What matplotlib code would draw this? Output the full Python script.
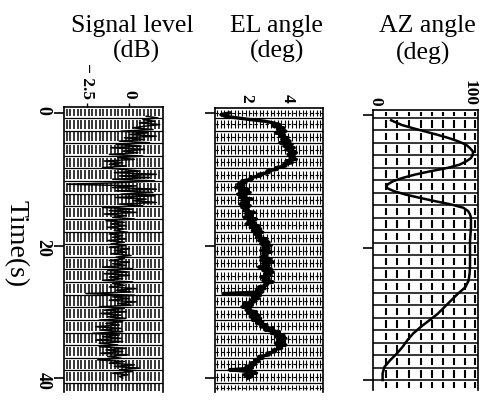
import numpy as np
import matplotlib
matplotlib.use('Agg')
import matplotlib.pyplot as plt

plt.rcParams['font.family'] = ['Liberation Serif', 'DejaVu Serif']

# ---------------- data ----------------
time_ticks = [0, 20, 40]
time_ticklabels = ['0', '20', '40']
sig_ticks = [-2.5, 0]
sig_ticklabels = ['− 2.5', '0']
el_ticks = [2, 4]
el_ticklabels = ['2', '4']
az_ticks = [0, 100]
az_ticklabels = ['0', '100']

# Signal level (dB), sampled every 0.25 s starting at 0.5 s
sig_t0, sig_dt = 0.5, 0.25
sig_values = [
    1.0, 1.7, 0.8, 1.5, 0.6, 1.8, 0.9,
    0.2, 1.4, -0.5, 1.1, 0.0, 1.6, -0.3, 0.9, -0.6, 1.2,
    -0.8, 0.7, -1.1, 0.9, -0.4, 0.5, -1.2, 0.8, -0.7, 0.3,
    -1.5, -0.4, -1.2, -0.2, -1.6, -0.5,
    0.6, -0.9, 1.6, -0.6, 1.2, -1.0, 1.5, -0.3,
    -3.7, 0.4, -1.0, 1.6, -0.8, 1.4,
    -0.5, 1.5, -0.8, 1.0, 0.2, 1.6, -0.6, 0.8,
    -1.6, 0.2, -1.2, 0.4, -1.5, -0.2, -1.0, 0.3, -1.4, -0.3,
    -1.1, -0.2, -1.3, -0.3, -0.9, -0.1, -1.2, -0.4, -1.0, -0.2, -1.3, -0.3, -1.1, -0.2,
    -1.2, 0.0, -0.9, -0.2, -1.1, 0.1, -0.8, -0.3, -1.2, 0.0, -1.0, -0.2,
    -1.6, 0.2, -1.3, -0.1, -1.5, 0.0, -1.2, -0.4, -1.6, 0.2, -1.0, -0.3,
    -1.2, 0.4, -0.8, 0.1, -2.6, 0.3, -1.0, 0.0, -1.2, 0.4, -0.7, 0.1,
    -1.8, -0.3, -1.5, -0.2, -1.7, -0.5, -1.3, -0.2, -1.8, -0.4, -1.4, -0.6,
    -2.0, -0.5, -1.7, -0.4, -2.2, -0.6, -1.6, -0.5, -2.0, -0.4, -1.8, -0.7,
    -1.8, -0.2, -1.4, -0.4, -1.7, -0.1, -1.3, -0.5, -1.9, -0.3,
    -1.2, 0.3, -0.9, 0.6, -0.6, 0.2, -1.0, -0.1, -0.6, -0.4,
]

# EL angle (deg), sampled every 0.25 s starting at 0 s
el_t0, el_dt = 0.0, 0.25
el_values = [
    1.2, 0.8, 1.0, 1.6, 2.2, 2.9, 3.3, 3.6,
    3.3, 3.8, 3.5, 3.9, 3.4, 3.8, 3.6, 4.0,
    3.7, 4.1, 3.6, 4.2, 3.8, 4.3, 3.9, 4.1,
    4.4, 4.0, 4.3, 4.1, 4.4, 3.9, 4.2, 3.8,
    3.9, 3.4, 3.5, 3.0, 3.1, 2.6, 2.7, 2.2,
    2.3, 1.8, 2.0, 1.6, 1.9, 1.5, 2.1, 1.7,
    2.2, 1.6, 2.0, 1.7, 2.3, 1.8, 2.1, 1.7,
    2.2, 1.8, 2.1, 1.9, 2.4, 2.0, 2.3, 1.9,
    2.5, 2.1, 2.4, 2.0, 2.6, 2.2, 2.7, 2.3,
    2.8, 2.4, 2.7, 2.5, 3.0, 2.6, 3.1, 2.7,
    3.2, 2.8, 3.1, 2.7, 3.2, 2.8, 3.0, 2.7,
    3.2, 2.7, 3.3, 2.8, 3.1, 2.6, 3.2, 2.8,
    3.3, 2.9, 3.2, 2.7, 3.1, 2.8, 3.3, 2.9,
    3.0, 2.6, 2.9, 2.5, 2.8, 0.9, 2.7, 2.3,
    2.6, 2.2, 2.4, 1.9, 2.3, 1.8, 2.2, 2.0,
    2.5, 2.1, 2.6, 2.2, 2.7, 2.3, 2.8, 2.5,
    3.0, 2.7, 3.3, 2.9, 3.6, 3.2, 3.8, 3.4,
    3.9, 3.5, 3.8, 3.4, 3.9, 3.5, 3.7, 3.3,
    3.4, 3.0, 3.1, 2.6, 2.8, 2.4, 2.6, 2.2,
    2.4, 2.0, 2.3, 1.2, 2.1, 2.5, 1.9, 2.3,
    2.1,
]

# AZ angle (deg)
az_time = [0.8, 1.0, 1.5, 2.0, 2.5, 3.0, 3.5, 4.0, 4.5, 5.0, 5.5, 6.0, 6.5, 7.0,
           7.5, 8.0, 8.5, 9.0, 9.5, 10.0, 10.5, 11.0, 11.5, 12.0, 12.5, 13.0,
           13.5, 14.0, 14.5, 15.0, 15.5, 16.0, 17, 18, 19, 20, 21, 22, 23, 24,
           25, 26, 27, 28, 29, 30, 31, 32, 33, 34, 35, 36, 37, 38, 39, 40]
az_values = [17, 20, 28, 40, 53, 66, 78, 88, 96, 100, 103, 103, 101, 96,
             89, 76, 58, 42, 29, 19, 13, 12, 20, 32, 47, 63,
             80, 93, 98, 100, 101, 101, 101, 100.5, 100, 100, 100, 100, 100, 99.5,
             98.5, 95, 87, 80, 73, 66, 57, 48, 40, 34, 29, 23, 16, 10, 8, 8]

# ---------------- figure ----------------
W, H = 488, 404
fig = plt.figure(figsize=(W / 100, H / 100), dpi=100)


def rect(left, top, right, bottom):
    return [left / W, 1 - bottom / H, (right - left) / W, (bottom - top) / H]


ax1 = fig.add_axes(rect(64, 107, 163, 392))
ax2 = fig.add_axes(rect(215, 108, 323, 392))
ax3 = fig.add_axes(rect(373, 110, 478, 390))


def paper(ax, xlo, xhi, tlo, thi, row_start, row_step, bar_xs, frac, bar_lw, line_lw=0.9):
    edges = [tlo]
    r = row_start
    while r < thi:
        edges.append(r)
        r += row_step
    edges.append(thi)
    for a, b in zip(edges[:-1], edges[1:]):
        h = b - a
        ax.vlines(bar_xs, a + frac * h, b - frac * h, color='k', lw=bar_lw, zorder=1)
    ax.hlines(edges[1:-1], xlo, xhi, color='k', lw=line_lw, zorder=1)
    return edges


# Panel 1: signal level
x1lo, x1hi = -3.9, 2.0
t1lo, t1hi = -0.9, 42.1
ax1.set_xlim(x1lo, x1hi)
ax1.set_ylim(t1hi, t1lo)
paper(ax1, x1lo, x1hi, t1lo, t1hi, 0.75, 1.905,
      np.arange(-3.75, 1.95, 0.22), 0.14, 1.1)
sig_t = sig_t0 + sig_dt * np.arange(len(sig_values))
ax1.plot(sig_values, sig_t, color='k', lw=1.1, zorder=3)

# Panel 2: EL angle
x2lo, x2hi = 0.52, 5.67
t2lo, t2hi = -0.75, 42.1
ax2.set_xlim(x2lo, x2hi)
ax2.set_ylim(t2hi, t2lo)
edges2 = paper(ax2, x2lo, x2hi, t2lo, t2hi, 0.75, 1.905,
               np.arange(0.62, 5.6, 0.17), 0.18, 0.8)
mids = [(a + b) / 2 for a, b in zip(edges2[:-1], edges2[1:])]
ax2.hlines(mids, x2lo, x2hi, color='k', lw=0.8, linestyles=(0, (3, 2)), zorder=1)
el_t = el_t0 + el_dt * np.arange(len(el_values))
ax2.plot(el_values, el_t, color='k', lw=2.4, zorder=3)

# Panel 3: AZ angle
x3lo, x3hi = -2.1, 108.4
t3lo, t3hi = -0.75, 41.5
ax3.set_xlim(x3lo, x3hi)
ax3.set_ylim(t3hi, t3lo)
paper(ax3, x3lo, x3hi, t3lo, t3hi, 0.45, 1.885,
      [12, 23, 36, 48, 60, 72, 83, 95, 105], 0.2, 1.5, line_lw=1.1)
ax3.plot(az_values, az_time, color='k', lw=1.8, zorder=3)

for ax, xt, xl in [(ax1, sig_ticks, sig_ticklabels),
                   (ax2, el_ticks, el_ticklabels),
                   (ax3, az_ticks, az_ticklabels)]:
    ax.xaxis.tick_top()
    ax.set_xticks(xt)
    ax.set_xticklabels(xl, rotation=-90, fontsize=12.5, fontweight='bold')
    ax.tick_params(axis='x', length=3, width=1, pad=3, direction='out')
    ax.set_yticks(time_ticks)
    ax.tick_params(axis='y', length=7, width=1.2, direction='out')
    for s in ['left', 'right', 'top']:
        ax.spines[s].set_linewidth(1.2)
    ax.spines['bottom'].set_visible(False)

ax1.set_yticklabels(time_ticklabels, rotation=-90, fontsize=13, fontweight='bold')
ax1.tick_params(axis='y', pad=2)
ax2.set_yticklabels([])
ax3.set_yticklabels([])
ax3.tick_params(axis='x', length=0)
ax2.tick_params(axis='x', length=0, pad=4)

# Titles
fs = 18.5
fig.text(132 / W, 1 - 32 / H, 'Signal level', ha='center', va='baseline', fontsize=fs)
fig.text(136 / W, 1 - 58 / H, '(dB)', ha='center', va='baseline', fontsize=fs)
fig.text(276 / W, 1 - 32 / H, 'EL angle', ha='center', va='baseline', fontsize=fs)
fig.text(277 / W, 1 - 58 / H, '(deg)', ha='center', va='baseline', fontsize=fs)
fig.text(427 / W, 1 - 32 / H, 'AZ angle', ha='center', va='baseline', fontsize=fs)
fig.text(423 / W, 1 - 60 / H, '(deg)', ha='center', va='baseline', fontsize=fs)
fig.text(16 / W, 1 - 244 / H, 'Time(s)', rotation=-90, ha='center', va='center', fontsize=20)

fig.savefig('out.png', dpi=100)
